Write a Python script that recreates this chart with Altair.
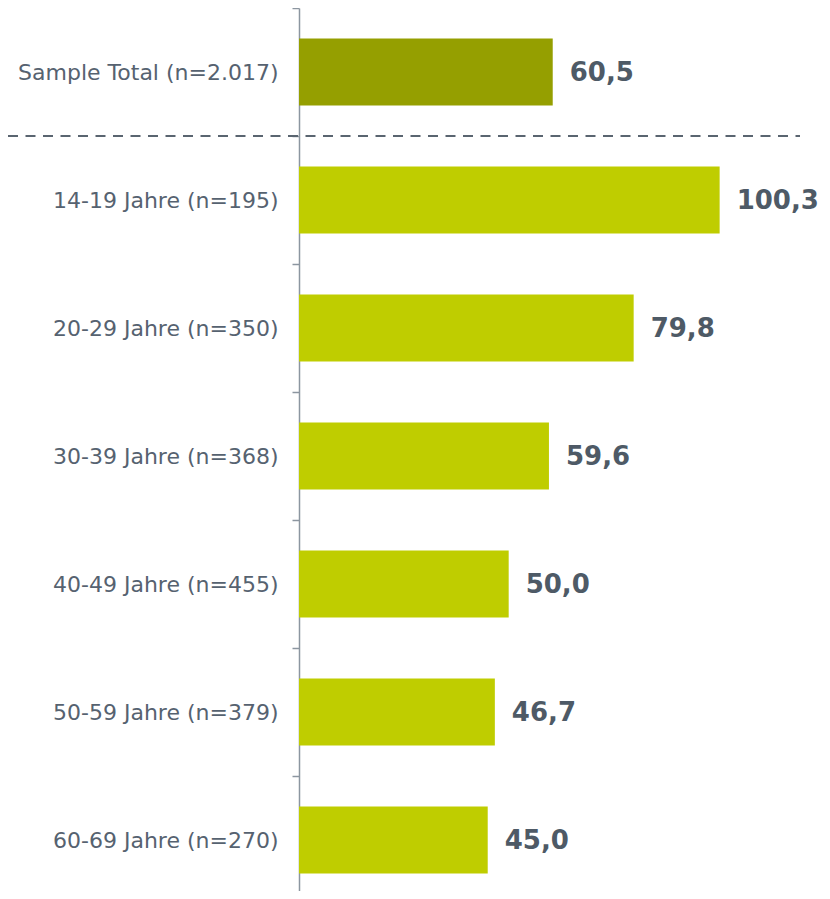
import altair as alt
import pandas as pd

categories = [
    "Sample Total (n=2.017)",
    "14-19 Jahre (n=195)",
    "20-29 Jahre (n=350)",
    "30-39 Jahre (n=368)",
    "40-49 Jahre (n=455)",
    "50-59 Jahre (n=379)",
    "60-69 Jahre (n=270)",
]
values = [60.5, 100.3, 79.8, 59.6, 50.0, 46.7, 45.0]
groups = ["Total", "Alter", "Alter", "Alter", "Alter", "Alter", "Alter"]

df = pd.DataFrame({
    "cat": categories,
    "val": values,
    "grp": groups,
    "lbl": [f"{v:.1f}".replace(".", ",") for v in values],
})

TEXT = "#566270"
VAL = "#4e5a66"
AXIS = "#8c96a0"

yenc = alt.Y(
    "cat:N",
    sort=categories,
    title=None,
    scale=alt.Scale(domain=categories, range=[0, 896], paddingInner=0.477, paddingOuter=0.2385),
    axis=alt.Axis(
        domainColor=AXIS, domainWidth=1.5, tickColor=AXIS, tickWidth=1.5, tickSize=7,
        tickOffset=-64, labelOffset=64, labelFont="DejaVu Sans", labelFontSize=22,
        labelColor=TEXT, labelPadding=14, labelLimit=400, grid=False,
    ),
)
xenc = alt.X("val:Q", scale=alt.Scale(domain=[0, 122.8], nice=False), axis=None)

base = alt.Chart(df)

bars = base.mark_bar().encode(
    x=xenc,
    y=yenc,
    color=alt.Color("grp:N", scale=alt.Scale(domain=["Total", "Alter"], range=["#959f00", "#bfcd00"]), legend=None),
)

text = base.mark_text(
    align="left", baseline="middle", dx=17, dy=1, font="DejaVu Sans", fontWeight="bold",
    fontSize=26, color=VAL,
).encode(x=xenc, y=yenc, text="lbl:N")

rule = alt.Chart(pd.DataFrame({"a": [0]})).mark_rule(
    strokeDash=[10, 7.5], strokeWidth=2, color="#5a6570"
).encode(x=alt.value(-291), x2=alt.value(501), y=alt.value(128))

chart = alt.layer(bars, text, rule).properties(
    width=515,
    height=883,
    autosize=alt.AutoSizeParams(type="none"),
    padding={"left": 291, "top": 0, "right": 8, "bottom": 0},
).configure_view(stroke=None)

chart.save("out.html", embed_options={"renderer": "svg", "actions": False})
